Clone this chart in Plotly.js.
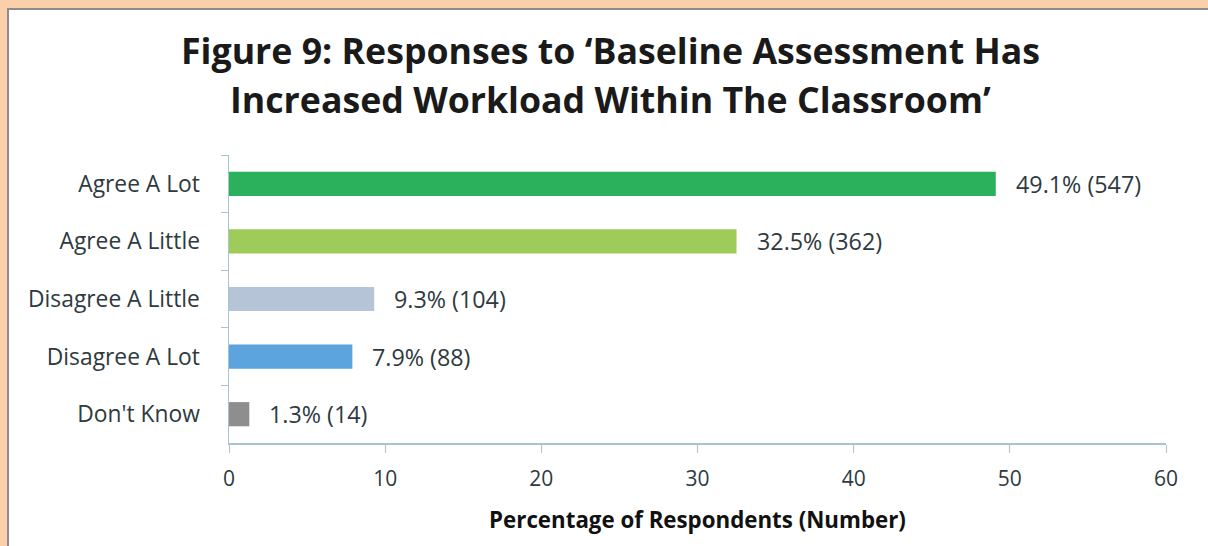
<!DOCTYPE html>
<html>
<head>
<meta charset="utf-8">
<script src="https://cdn.plot.ly/plotly-3.0.1.min.js"></script>
<style>
  html, body { margin: 0; padding: 0; background: #FBCFA9; width: 1208px; height: 546px; overflow: hidden; }
  #frame { position: absolute; left: 7px; top: 8px; width: 1201px; height: 538px; background: #fff;
           border-left: 2px solid #8c8c8c; border-top: 2px solid #8c8c8c; box-sizing: border-box; }
  #plot { position: absolute; left: 0; top: 0; width: 1199px; height: 536px; }
</style>
</head>
<body>
<div id="frame"><div id="plot"></div></div>
<script>
const categories = ["Agree A Lot", "Agree A Little", "Disagree A Little", "Disagree A Lot", "Don't Know"];
const percentages = [49.1, 32.5, 9.3, 7.9, 1.3];
const counts = [547, 362, 104, 88, 14];
const barColors = ["#2BB05C", "#9ECB5A", "#B5C4D6", "#5BA4DD", "#8E8E8E"];
const xTicks = [0, 10, 20, 30, 40, 50, 60];
const titleLines = ["Figure 9: Responses to \u2018Baseline Assessment Has", "Increased Workload Within The Classroom\u2019"];

const font = "'Open Sans', sans-serif";
const labels = percentages.map((p, i) => p.toFixed(1) + "% (" + counts[i] + ")");

const trace = {
  type: "bar",
  orientation: "h",
  x: percentages,
  y: categories,
  marker: { color: barColors, line: { width: 0 } },
  hoverinfo: "none"
};

const annotations = categories.map((c, i) => ({
  x: percentages[i], y: c, xref: "x", yref: "y",
  text: labels[i], showarrow: false, xanchor: "left", xshift: 18,
  font: { family: font, size: 23.3, color: "#2e3a40" }
}));
titleLines.forEach((t, i) => annotations.push({
  x: 0.4074, y: [1.365, 1.194][i], xref: "paper", yref: "paper",
  xanchor: "center", yanchor: "middle", showarrow: false, text: t,
  font: { family: font, size: 35.7, color: "#1a1a1a", weight: "bold" }
}));

const layout = {
  width: 1199, height: 536,
  paper_bgcolor: "rgba(0,0,0,0)", plot_bgcolor: "rgba(0,0,0,0)",
  margin: { l: 220, r: 42, t: 145, b: 103 },
  bargap: 0.58,
  showlegend: false,
  xaxis: {
    range: [0, 60], tickvals: xTicks, ticktext: xTicks.map(String),
    showgrid: false, zeroline: false,
    showline: true, linecolor: "#a9c3cf", linewidth: 1.5,
    ticks: "outside", ticklen: 8, tickcolor: "#a9c3cf",
    ticklabelstandoff: 8,
    tickfont: { family: font, size: 21, color: "#2e3a40" },
    title: { text: "Percentage of Respondents (Number)", standoff: 21,
             font: { family: font, size: 22.3, color: "#111", weight: "bold" } },
    fixedrange: true
  },
  yaxis: {
    autorange: "reversed", type: "category",
    showgrid: false, zeroline: false,
    showline: true, linecolor: "#a9c3cf", linewidth: 1.5,
    ticks: "outside", ticklen: 7, tickcolor: "#a9c3cf", tickson: "boundaries",
    ticklabelstandoff: 23,
    tickfont: { family: font, size: 22.8, color: "#2e3a40" },
    fixedrange: true
  },
  annotations: annotations
};

Plotly.newPlot("plot", [trace], layout, { staticPlot: true, displayModeBar: false });
</script>
</body>
</html>
